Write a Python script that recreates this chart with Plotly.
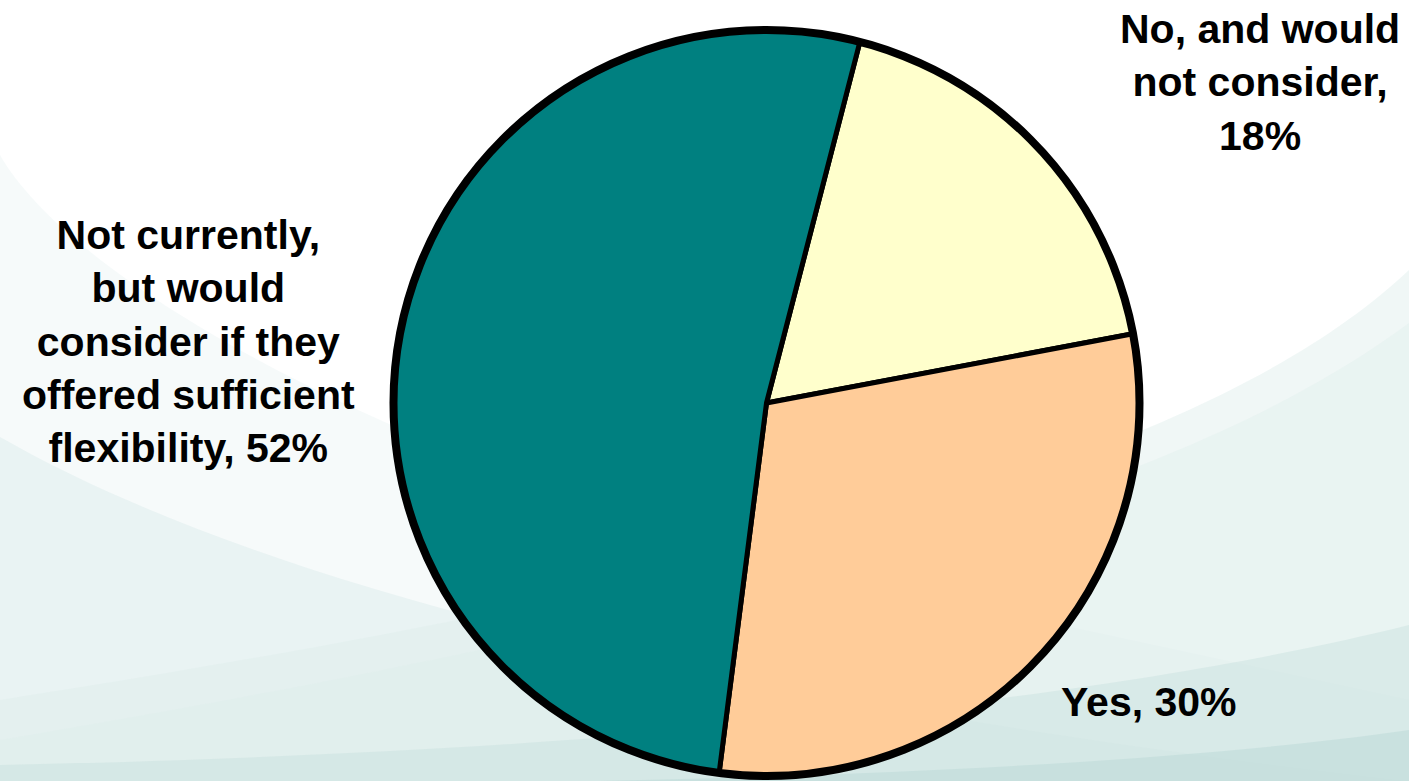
import plotly.graph_objects as go

# Survey responses
labels = [
    "No, and would not consider",
    "Yes",
    "Not currently, but would consider if they offered sufficient flexibility",
]
values = [18, 30, 52]
colors = ["#FFFFCC", "#FFCC99", "#008080"]

label_text = [
    "No, and would<br>not consider,<br>18%",
    "Yes, 30%",
    "Not currently,<br>but would<br>consider if they<br>offered sufficient<br>flexibility, 52%",
]

W, H = 1409, 781


def px(x, y):
    """Pixel position -> paper coordinates as an SVG path fragment."""
    return f"{x / W:.5f},{1 - y / H:.5f}"


# Soft background swooshes (paper coordinates)
bg_shapes = [
    # left swoosh, lightest
    dict(d="M " + px(0, 155) + " C " + px(60, 260) + " " + px(300, 420) + " " + px(760, 560)
         + " L " + px(1409, 700) + " L " + px(1409, 781) + " L " + px(0, 781) + " Z",
         fill="rgba(226,239,238,0.32)"),
    # left swoosh, second band
    dict(d="M " + px(0, 437) + " C " + px(250, 580) + " " + px(700, 700) + " " + px(1409, 781)
         + " L " + px(0, 781) + " Z",
         fill="rgba(222,237,236,0.55)"),
    # right swoosh, upper band
    dict(d="M " + px(1409, 270) + " C " + px(1250, 420) + " " + px(900, 560) + " " + px(0, 700)
         + " L " + px(0, 781) + " L " + px(1409, 781) + " Z",
         fill="rgba(222,237,236,0.45)"),
    dict(d="M " + px(1409, 323) + " C " + px(1250, 440) + " " + px(950, 580) + " " + px(0, 740)
         + " L " + px(0, 781) + " L " + px(1409, 781) + " Z",
         fill="rgba(222,237,236,0.35)"),
    # bottom, deeper teal
    dict(d="M " + px(1409, 625) + " C " + px(1150, 690) + " " + px(700, 750) + " " + px(0, 765)
         + " L " + px(0, 781) + " L " + px(1409, 781) + " Z",
         fill="rgba(200,225,222,0.45)"),
    dict(d="M " + px(1409, 730) + " C " + px(1200, 760) + " " + px(900, 775) + " " + px(600, 781)
         + " L " + px(1409, 781) + " Z",
         fill="rgba(185,216,212,0.45)"),
]

shapes = [
    dict(type="path", path=s["d"], xref="paper", yref="paper",
         fillcolor=s["fill"], line=dict(width=0), layer="below")
    for s in bg_shapes
]

# Pie geometry (pixel centre and radius -> paper domain)
cx, cy, r = 766.5, 403, 373
dom_x = [(cx - r) / W, (cx + r) / W]
dom_y = [1 - (cy + r) / H, 1 - (cy - r) / H]

fig = go.Figure()
fig.add_trace(go.Pie(
    labels=labels,
    values=values,
    sort=False,
    direction="clockwise",
    rotation=14.5,
    marker=dict(colors=colors, line=dict(color="black", width=5)),
    textinfo="none",
    hoverinfo="label+percent",
    showlegend=False,
    domain=dict(x=dom_x, y=dom_y),
))
# heavier outer rim
fig.add_trace(go.Pie(
    labels=["all"],
    values=[sum(values)],
    marker=dict(colors=["rgba(0,0,0,0)"], line=dict(color="black", width=8)),
    textinfo="none",
    hoverinfo="skip",
    showlegend=False,
    domain=dict(x=dom_x, y=dom_y),
))

label_pos = [(1260, 82), (1149, 702), (188, 341)]
font = dict(family="Liberation Sans, Arial, sans-serif", size=41, color="black")
annotations = [
    dict(text=f"<b>{t}</b>", x=x / W, y=1 - y / H, xref="paper", yref="paper",
         xanchor="center", yanchor="middle", showarrow=False, align="center", font=font)
    for t, (x, y) in zip(label_text, label_pos)
]

fig.update_layout(
    width=W, height=H,
    margin=dict(l=0, r=0, t=0, b=0),
    paper_bgcolor="white",
    plot_bgcolor="white",
    shapes=shapes,
    annotations=annotations,
)

fig.write_html("out.html")
